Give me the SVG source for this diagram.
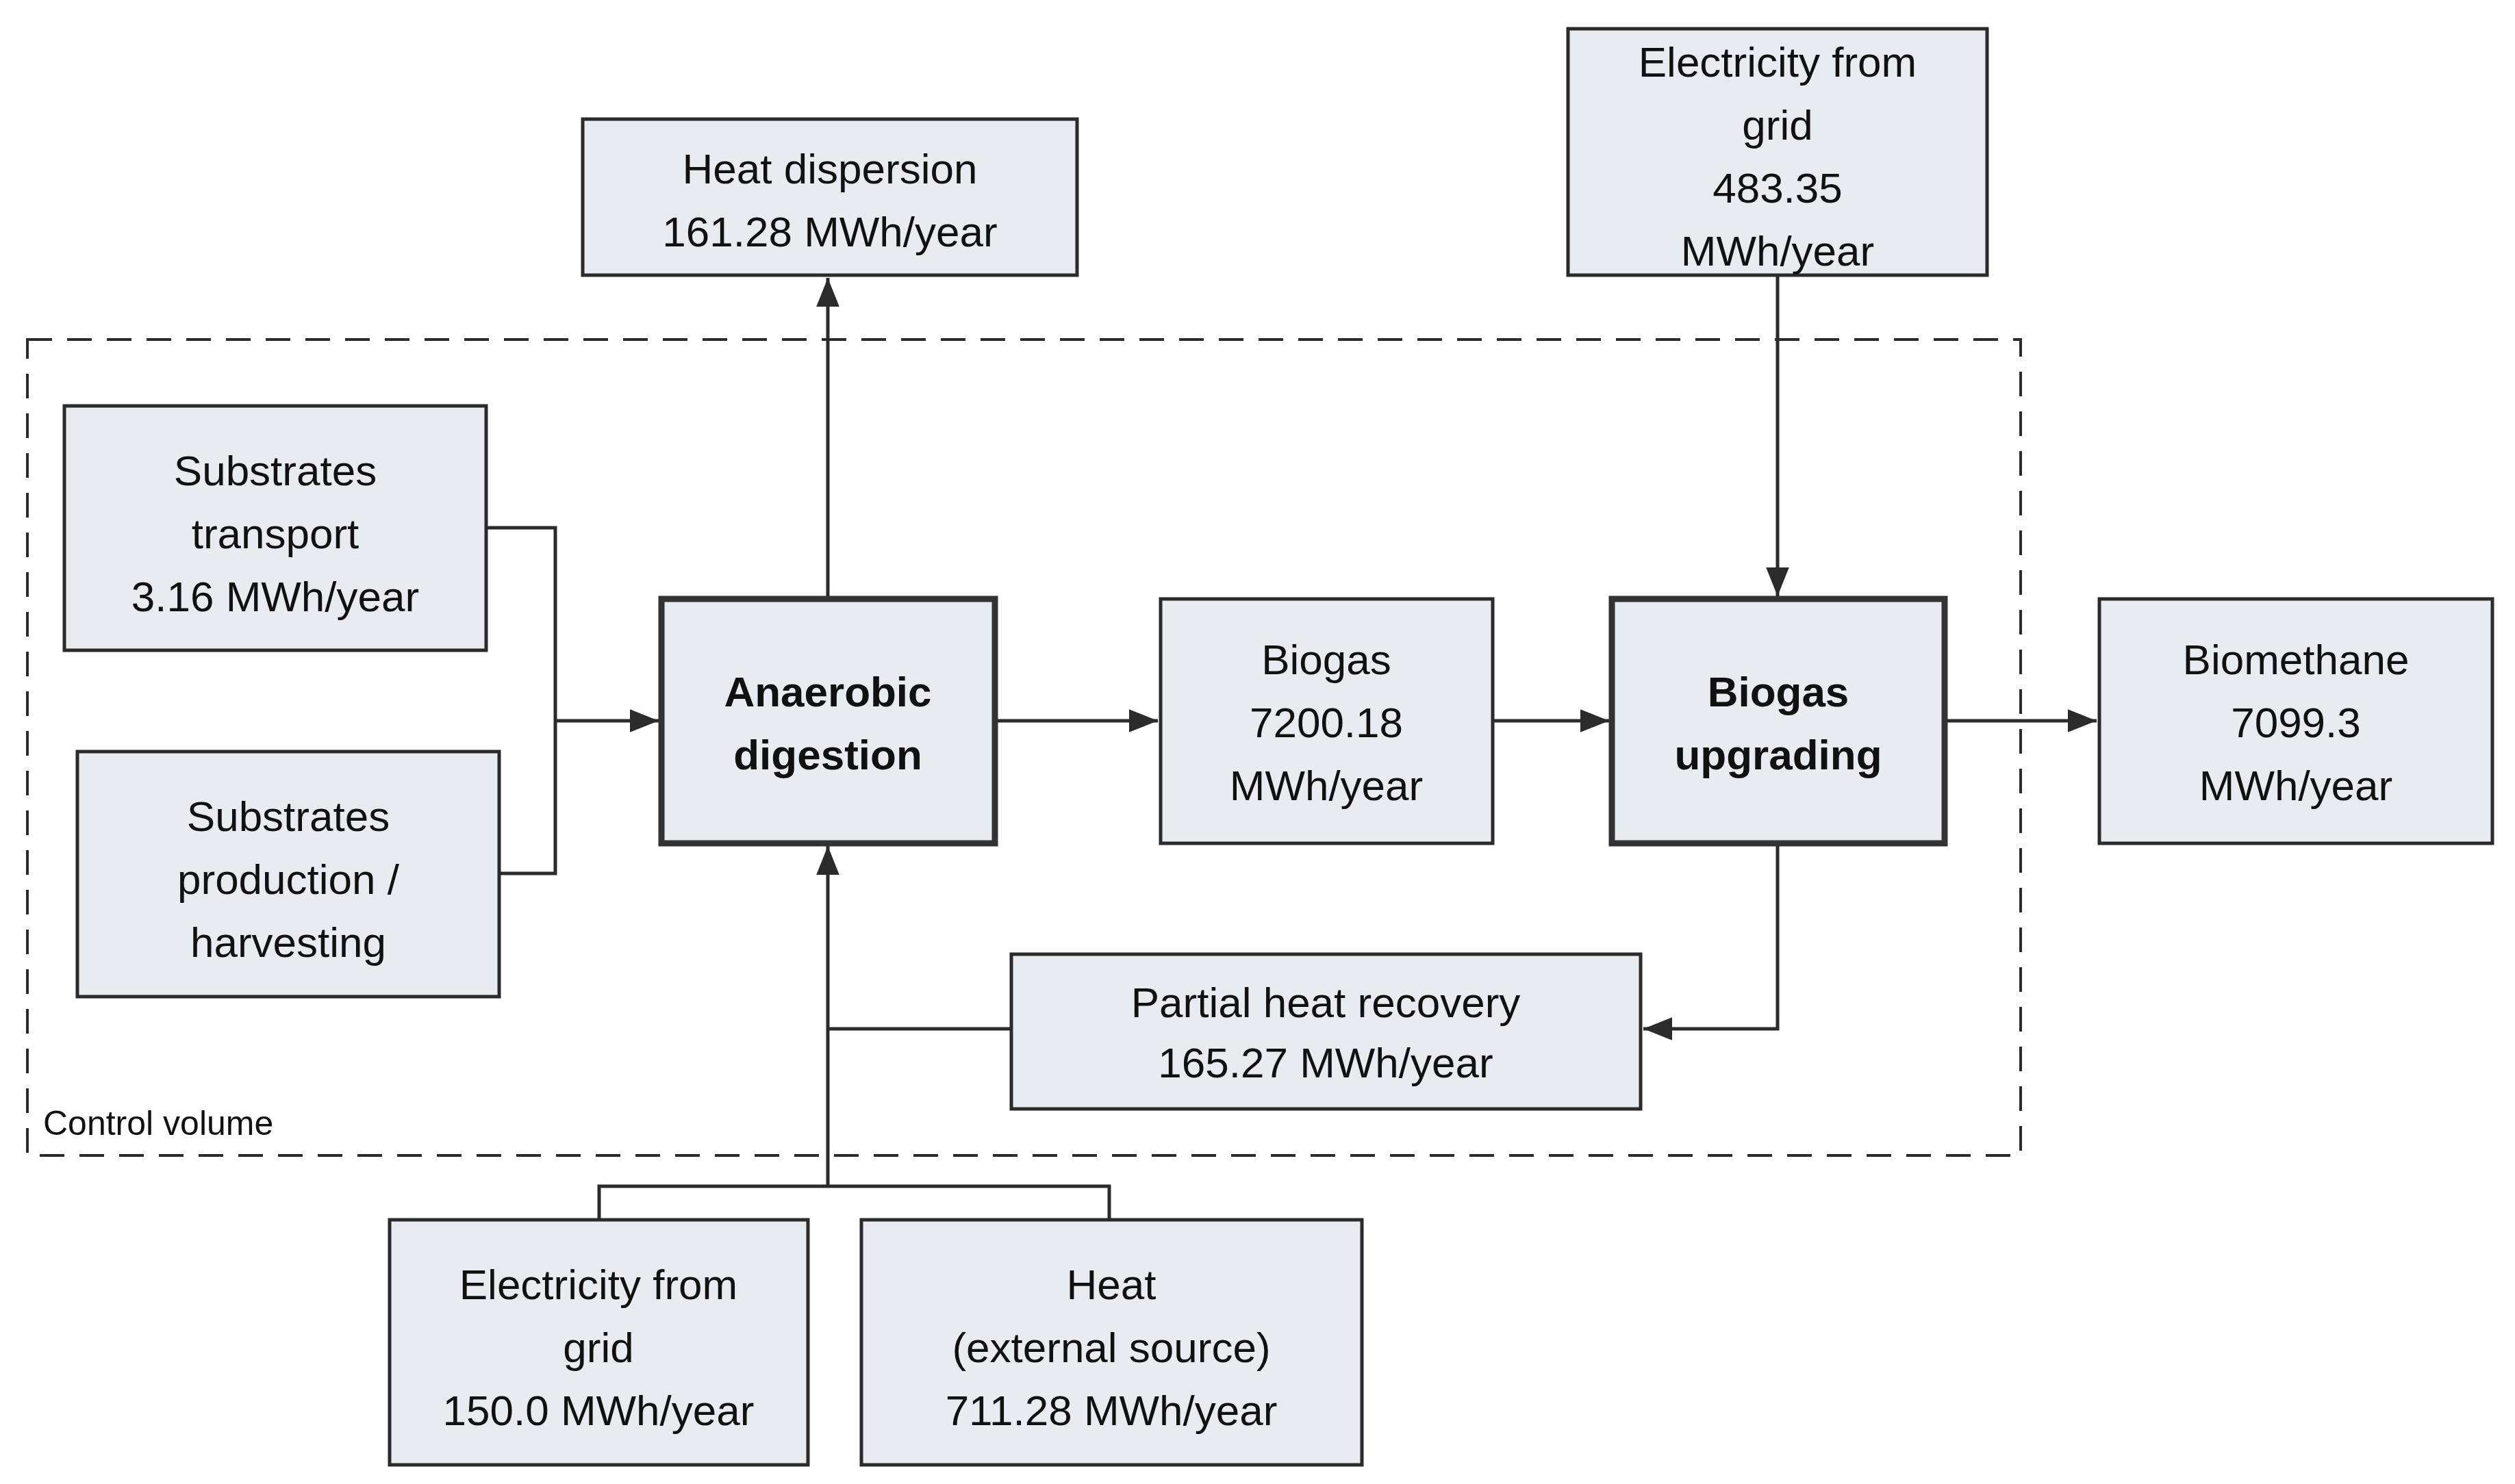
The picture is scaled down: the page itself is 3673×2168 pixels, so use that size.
<svg xmlns="http://www.w3.org/2000/svg" width="3673" height="2168" viewBox="0 0 3673 2168">
<style>
.b{fill:#e8ebf0;stroke:#2b2b2b;stroke-width:5}
.k{fill:#e8ebf0;stroke:#333;stroke-width:9}
text{font-family:"Liberation Sans",Arial,sans-serif;font-size:62px;fill:#111;text-anchor:middle}
.bt{font-weight:bold}
.c{fill:none;stroke:#2b2b2b;stroke-width:5}
</style>
<defs><marker id="a" viewBox="0 0 10 10" refX="10" refY="5" markerWidth="9" markerHeight="9" markerUnits="userSpaceOnUse" orient="auto"><path d="M0,0L10,5L0,10z" fill="#2b2b2b"/></marker>
<marker id="m" viewBox="0 0 10 10" refX="10" refY="5" markerWidth="42" markerHeight="42" markerUnits="userSpaceOnUse" orient="auto"><path d="M0,1L10,5L0,9z" fill="#2b2b2b"/></marker></defs>
<rect x="40" y="496" width="2911" height="1192" fill="none" stroke="#2b2b2b" stroke-width="4" stroke-dasharray="36,22"/>
<text x="63" y="1658" style="font-size:50px;text-anchor:start">Control volume</text>
<g id="connectors" class="c">
<polyline points="710,771 811,771 811,1276 729,1276"/>
<line x1="811" y1="1053" x2="962" y2="1053" marker-end="url(#m)"/>
<line x1="1209" y1="875" x2="1209" y2="406" marker-end="url(#m)"/>
<line x1="1453" y1="1053" x2="1691" y2="1053" marker-end="url(#m)"/>
<line x1="2180" y1="1053" x2="2350" y2="1053" marker-end="url(#m)"/>
<line x1="2840" y1="1053" x2="3062" y2="1053" marker-end="url(#m)"/>
<line x1="2596" y1="402" x2="2596" y2="871" marker-end="url(#m)"/>
<polyline points="2596,1232 2596,1503 2400,1503" marker-end="url(#m)"/>
<line x1="1477" y1="1503" x2="1209" y2="1503"/>
<line x1="1209" y1="1733" x2="1209" y2="1236" marker-end="url(#m)"/>
<polyline points="875,1782 875,1733 1620,1733 1620,1782"/>
</g>
<g id="heat-dispersion"><rect class="b" x="851" y="174" width="722" height="228"/><text x="1212" y="268">Heat dispersion</text><text x="1212" y="360">161.28 MWh/year</text></g>
<g id="elec-top"><rect class="b" x="2290" y="42" width="612" height="360"/><text x="2596" y="112">Electricity from</text><text x="2596" y="204">grid</text><text x="2596" y="296">483.35</text><text x="2596" y="388">MWh/year</text></g>
<g id="substrates-transport"><rect class="b" x="94" y="593" width="616" height="357"/><text x="402" y="709">Substrates</text><text x="402" y="801">transport</text><text x="402" y="893">3.16 MWh/year</text></g>
<g id="substrates-production"><rect class="b" x="113" y="1098" width="616" height="358"/><text x="421" y="1214">Substrates</text><text x="421" y="1306">production /</text><text x="421" y="1398">harvesting</text></g>
<g id="anaerobic"><rect class="k" x="966" y="875" width="487" height="357"/><text class="bt" x="1209" y="1032">Anaerobic</text><text class="bt" x="1209" y="1124">digestion</text></g>
<g id="biogas"><rect class="b" x="1695" y="875" width="485" height="357"/><text x="1937" y="985">Biogas</text><text x="1937" y="1077">7200.18</text><text x="1937" y="1169">MWh/year</text></g>
<g id="upgrading"><rect class="k" x="2354" y="875" width="486" height="357"/><text class="bt" x="2597" y="1032">Biogas</text><text class="bt" x="2597" y="1124">upgrading</text></g>
<g id="biomethane"><rect class="b" x="3066" y="875" width="574" height="357"/><text x="3353" y="985">Biomethane</text><text x="3353" y="1077">7099.3</text><text x="3353" y="1169">MWh/year</text></g>
<g id="heat-recovery"><rect class="b" x="1477" y="1394" width="919" height="226"/><text x="1936" y="1486">Partial heat recovery</text><text x="1936" y="1574">165.27 MWh/year</text></g>
<g id="elec-bottom"><rect class="b" x="569" y="1782" width="611" height="358"/><text x="874" y="1898">Electricity from</text><text x="874" y="1990">grid</text><text x="874" y="2082">150.0 MWh/year</text></g>
<g id="heat-ext"><rect class="b" x="1258" y="1782" width="731" height="358"/><text x="1623" y="1898">Heat</text><text x="1623" y="1990">(external source)</text><text x="1623" y="2082">711.28 MWh/year</text></g>
</svg>
